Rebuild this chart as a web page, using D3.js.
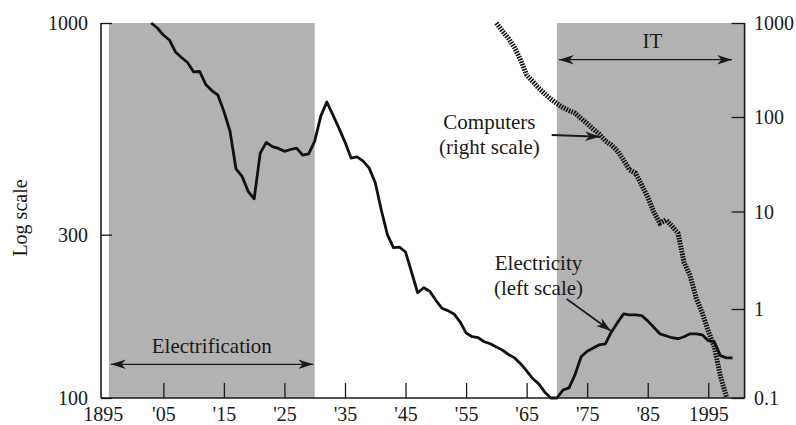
<!DOCTYPE html>
<html><head><meta charset="utf-8">
<script src="https://cdn.jsdelivr.net/npm/d3@7"></script>
<style>
body{margin:0;background:#fff}
svg text{font-family:"Liberation Serif","Times New Roman",serif;fill:#1a1a1a}
</style>
</head><body>
<svg id="chart" width="796" height="425"></svg>
<script>
// ---- data ----
const elecYears = [1903,1904,1905,1906,1907,1908,1909,1910,1911,1912,
  1913,1914,1915,1916,1917,1918,1919,1920,1921,1922,
  1923,1924,1925,1926,1927,1928,1929,1930,1931,1932,
  1933,1934,1935,1936,1937,1938,1939,1940,1941,1942,
  1943,1944,1945,1946,1947,1948,1949,1950,1951,1952,
  1953,1954,1955,1956,1957,1958,1959,1960,1961,1962,
  1963,1964,1965,1966,1967,1968,1969,1970,1971,1972,
  1973,1974,1975,1976,1977,1978,1979,1980,1981,1982,
  1983,1984,1985,1986,1987,1988,1989,1990,1991,1992,
  1993,1994,1995,1996,1997,1998,1999];
const elecValues = [1000,972,934,908,848,822,799,757,759,705,
  681,664,605,541,436,418,384,368,477,507,
  495,490,482,487,491,472,475,511,589,638,
  593,550,508,464,467,456,438,403,345,300,
  275,276,267,233,203,210,205,193,183,180,
  176,167,155,151,150,146,144,141,138,134,
  131,126,120,114,110,104,100,100,105.5,107,
  117,132,137,140,143,144,156,166,176,175,
  175,174,168,161,154,152,150,149,151,154,
  154,153,147,146,133,131,131];

const compYears = [1960,1961,1962,1963,1964,1965,1966,1967,1968,1969,
  1970,1971,1972,1973,1974,1975,1976,1977,1978,1979,
  1980,1981,1982,1983,1984,1985,1986,1987,1988,1989,
  1990,1991,1992,1993,1994,1995,1996,1997,1998];
const compValues = [1000,822,684,549,404,280,239,203,176,155,
  139,126,117,110,96.4,85.4,74.6,66.1,55.7,50.5,
  43.7,35.1,27.5,25.4,19.1,14.2,9.9,7.6,8.2,7.1,
  6.0,3.0,2.2,1.3,0.902,0.566,0.374,0.177,0.103];

const leftTicks = [100, 300, 1000];
const leftTickLabels = ["100", "300", "1000"];
const rightTicks = [0.1, 1, 10, 100, 1000];
const rightTickLabels = ["0.1", "1", "10", "100", "1000"];
const xTicks = [1895,1905,1915,1925,1935,1945,1955,1965,1975,1985,1995];
const xTickLabels = ["1895","'05","'15","'25","'35","'45","'55","'65","'75","'85","1995"];
const periodNames = ["Electrification", "IT"];
const periodStart = [1896, 1970];
const periodEnd = [1930, 2001];

// ---- scales ----
const svg = d3.select("#chart");
const x = d3.scaleLinear().domain([1894.7, 2001]).range([101, 744.6]);
const yL = d3.scaleLog().domain([100, 300, 1000]).range([398, 234.7, 23]);
const yR = d3.scaleLog().domain([0.1, 1, 10, 100, 1000]).range([398, 309, 211.5, 117, 23]);

// arrow marker
const defs = svg.append("defs");
defs.append("marker").attr("id","ah")
  .attr("viewBox","-16 -6 17 12").attr("refX",0).attr("refY",0)
  .attr("markerWidth",17).attr("markerHeight",12)
  .attr("markerUnits","userSpaceOnUse").attr("orient","auto-start-reverse")
  .append("path").attr("d","M0,0 L-15,-4.8 L-10.5,0 L-15,4.8 Z").attr("fill","#1a1a1a");

// ---- shaded periods ----
svg.selectAll("rect.period").data(periodNames).join("rect")
  .attr("class","period")
  .attr("x",(d,i)=>x(periodStart[i]))
  .attr("width",(d,i)=>x(periodEnd[i]) - x(periodStart[i]))
  .attr("y", yL(1000)).attr("height", yL(100) - yL(1000))
  .attr("fill","#b2b2b2");

// ---- lines ----
const elecData = elecYears.map((yr,i)=>({yr, v: elecValues[i]}));
const compData = compYears.map((yr,i)=>({yr, v: compValues[i]}));

svg.append("path").datum(compData)
  .attr("d", d3.line().x(d=>x(d.yr)).y(d=>yR(d.v)))
  .attr("fill","none").attr("stroke","#111").attr("stroke-width",5)
  .attr("stroke-dasharray","1.6,1.1");

svg.append("path").datum(elecData)
  .attr("d", d3.line().x(d=>x(d.yr)).y(d=>yL(d.v)))
  .attr("fill","none").attr("stroke","#111").attr("stroke-width",2.8)
  .attr("stroke-linejoin","round");

// ---- axes ----
const fontTick = "20px";
const gx = svg.append("g").attr("transform",`translate(0,${yL(100)})`).attr("color","#1a1a1a")
  .call(d3.axisBottom(x).tickValues(xTicks).tickFormat((d,i)=>xTickLabels[i])
        .tickSizeInner(-15).tickSizeOuter(0).tickPadding(8.6));
gx.select(".domain").remove();
gx.selectAll(".tick").filter(d=>d===1895).select("line").remove();
gx.selectAll("line").attr("stroke-width",1.3);
gx.selectAll("text").style("font-size",fontTick);

const gl = svg.append("g").attr("transform",`translate(${x(1894.7)},0)`).attr("color","#1a1a1a")
  .call(d3.axisLeft(yL).tickValues(leftTicks).tickFormat((d,i)=>leftTickLabels[i])
        .tickSizeInner(-11).tickSizeOuter(0).tickPadding(13));
gl.select(".domain").remove();
gl.selectAll("line").attr("stroke-width",1.3);
gl.selectAll("text").style("font-size",fontTick).attr("dy","0.34em");

const gr = svg.append("g").attr("transform",`translate(${x(2001)},0)`).attr("color","#1a1a1a")
  .call(d3.axisRight(yR).tickValues(rightTicks).tickFormat((d,i)=>rightTickLabels[i])
        .tickSizeInner(-13).tickSizeOuter(0).tickPadding(9.4));
gr.select(".domain").remove();
gr.selectAll("line").attr("stroke-width",1.3);
gr.selectAll("text").style("font-size",fontTick).attr("dy","0.34em");

// axis frame lines
const frame = svg.append("g").attr("stroke","#1a1a1a").attr("stroke-width",1.6).attr("fill","none");
frame.append("line").attr("x1",x(1894.7)).attr("x2",x(2001)).attr("y1",yL(100)).attr("y2",yL(100));
frame.append("line").attr("x1",x(1894.7)).attr("x2",x(1894.7)).attr("y1",yL(1000)).attr("y2",yL(100));
frame.append("line").attr("x1",x(2001)).attr("x2",x(2001)).attr("y1",yL(1000)).attr("y2",yL(100));

// y axis title
svg.append("text").attr("transform","translate(27.3,218) rotate(-90)")
  .attr("text-anchor","middle").style("font-size","20px").text("Log scale");

// ---- annotations ----
const ann = svg.append("g").style("font-size","21px").attr("text-anchor","middle");
ann.append("text").attr("x",(x(periodStart[0])+x(periodEnd[0]))/2).attr("y",353.3).text(periodNames[0]);
ann.append("text").attr("x",652.5).attr("y",47.7).text(periodNames[1]);
ann.append("text").attr("x",489.4).attr("y",129.3).text("Computers");
ann.append("text").attr("x",489.4).attr("y",154).text("(right scale)");
ann.append("text").attr("x",538.5).attr("y",270).text("Electricity");
ann.append("text").attr("x",538.5).attr("y",295).text("(left scale)");

const arr = svg.append("g").attr("stroke","#1a1a1a").attr("fill","none");
arr.append("line").attr("x1",x(periodStart[0])+2).attr("x2",x(periodEnd[0])-1.5)
  .attr("y1",364.3).attr("y2",364.3).attr("stroke-width",1.3)
  .attr("marker-start","url(#ah)").attr("marker-end","url(#ah)");
arr.append("line").attr("x1",x(periodStart[1])+2).attr("x2",x(2001)-12.5)
  .attr("y1",59.7).attr("y2",59.7).attr("stroke-width",1.3)
  .attr("marker-start","url(#ah)").attr("marker-end","url(#ah)");
arr.append("line").attr("x1",551.7).attr("y1",135).attr("x2",600).attr("y2",136.8)
  .attr("stroke-width",2).attr("marker-end","url(#ah)");
arr.append("line").attr("x1",566.7).attr("y1",299).attr("x2",611).attr("y2",331)
  .attr("stroke-width",1.6).attr("marker-end","url(#ah)");
</script>
</body></html>
